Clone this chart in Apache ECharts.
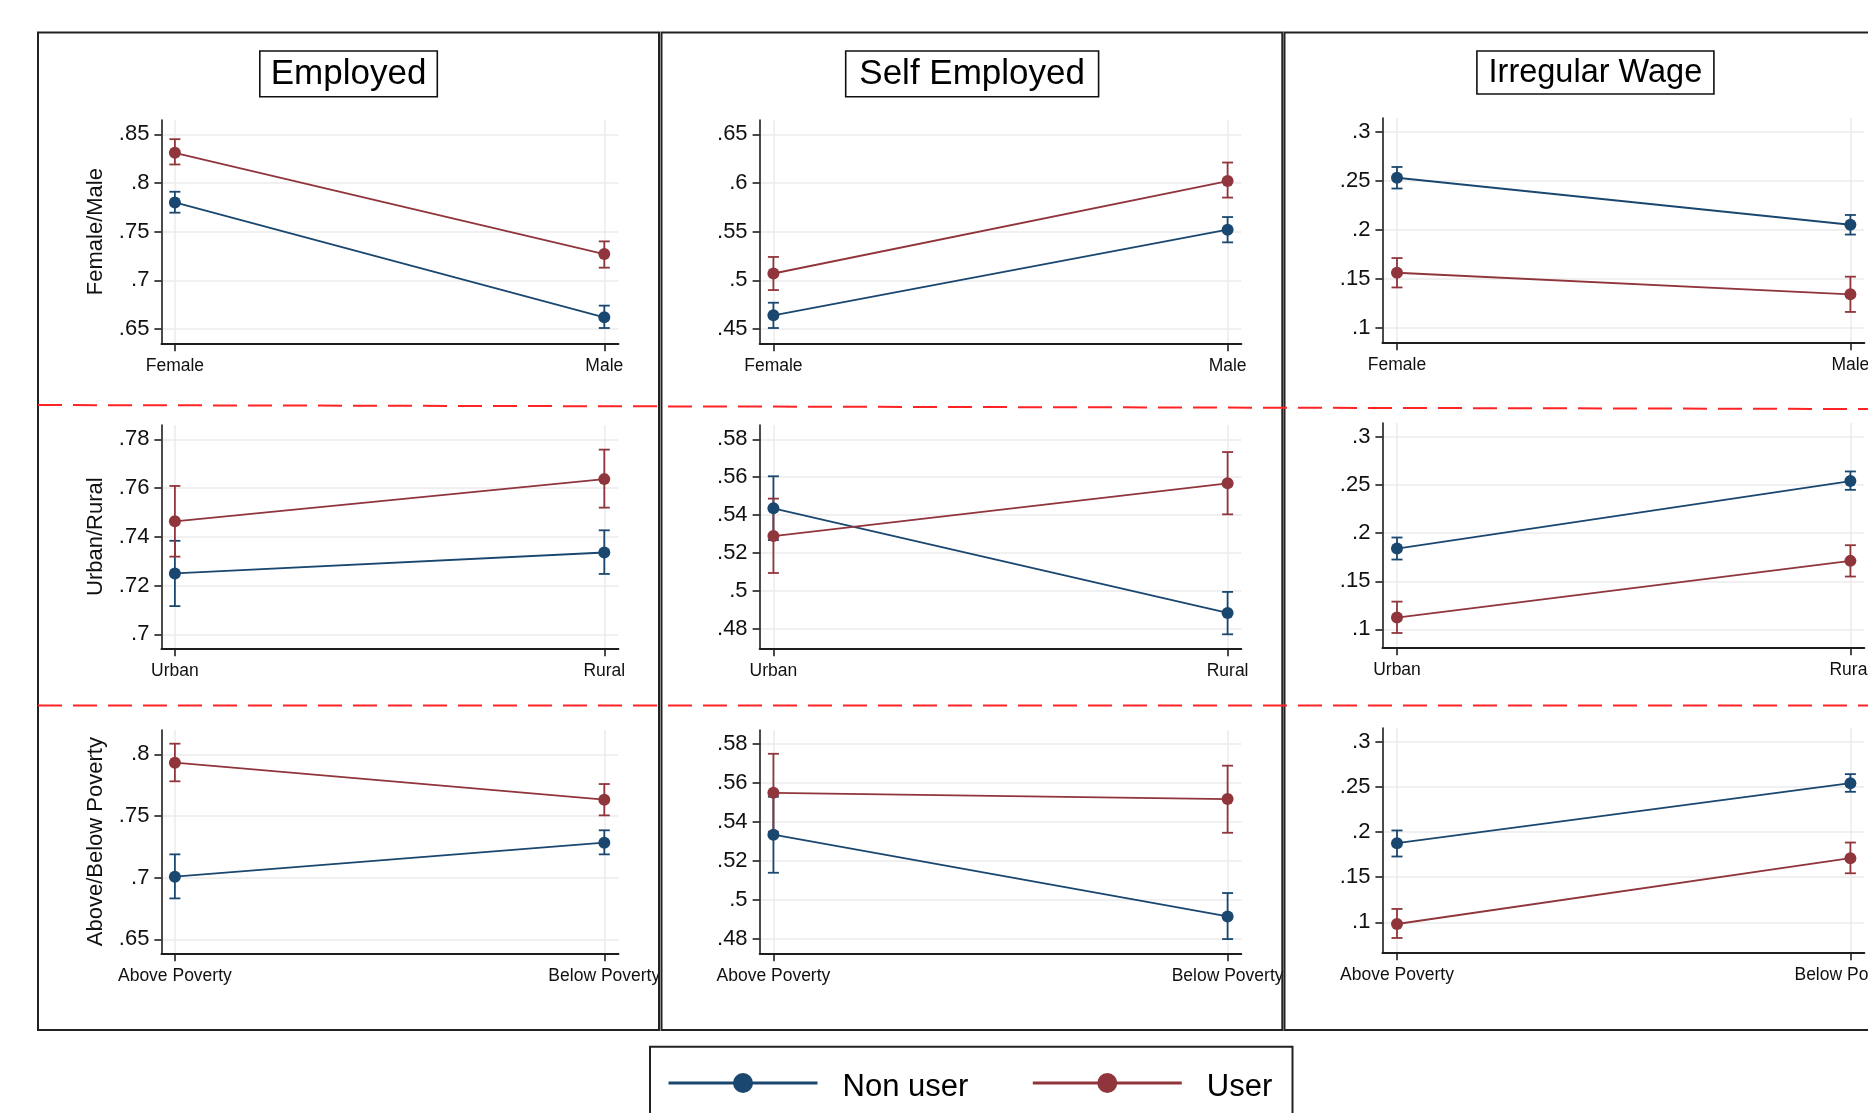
<!DOCTYPE html>
<html><head><meta charset="utf-8">
<script src="https://cdn.jsdelivr.net/npm/echarts@6/dist/echarts.min.js"></script>
<style>html,body{margin:0;padding:0;background:#fff;}#chart{width:1868px;height:1113px;}</style>
</head><body><div id="chart"></div>
<script>
// ---------- DATA ----------
const colTitles = ['Employed', 'Self Employed', 'Irregular Wage'];
const rowTitles = ['Female/Male', 'Urban/Rural', 'Above/Below Poverty'];
const rowCategories = [['Female', 'Male'], ['Urban', 'Rural'], ['Above Poverty', 'Below Poverty']];
const seriesNames = ['Non user', 'User'];

// [row][col] -> [first category, second category]
const nonUserMean = [
  [[0.780, 0.662], [0.464, 0.552], [0.253, 0.205]],
  [[0.725, 0.7336], [0.5436, 0.4883], [0.184, 0.2542]],
  [[0.7008, 0.7284], [0.5335, 0.4916], [0.1878, 0.2544]]
];
const nonUserLow = [
  [[0.7695, 0.651], [0.451, 0.539], [0.242, 0.195]],
  [[0.7116, 0.7248], [0.5268, 0.477], [0.1726, 0.2451]],
  [[0.6832, 0.7189], [0.514, 0.480], [0.173, 0.2448]]
];
const nonUserHigh = [
  [[0.791, 0.674], [0.477, 0.565], [0.264, 0.215]],
  [[0.7384, 0.7427], [0.5605, 0.4994], [0.1955, 0.2642]],
  [[0.7189, 0.7384], [0.553, 0.5036], [0.2019, 0.2644]]
];
const userMean = [
  [[0.831, 0.727], [0.507, 0.602], [0.156, 0.134]],
  [[0.7464, 0.7637], [0.5289, 0.5568], [0.1122, 0.1712]],
  [[0.7932, 0.7632], [0.555, 0.5518], [0.0981, 0.1711]]
];
const userLow = [
  [[0.819, 0.713], [0.490, 0.585], [0.141, 0.116]],
  [[0.7319, 0.752], [0.5094, 0.5404], [0.0962, 0.1549]],
  [[0.7781, 0.7505], [0.535, 0.5345], [0.0826, 0.1544]]
];
const userHigh = [
  [[0.845, 0.740], [0.524, 0.621], [0.171, 0.152]],
  [[0.7609, 0.7758], [0.5487, 0.5733], [0.1288, 0.1875]],
  [[0.8086, 0.7759], [0.575, 0.5689], [0.1148, 0.1885]]
];
// y tick labels [row][col]
const yTicks = [
  [[0.65, 0.7, 0.75, 0.8, 0.85], [0.45, 0.5, 0.55, 0.6, 0.65], [0.1, 0.15, 0.2, 0.25, 0.3]],
  [[0.7, 0.72, 0.74, 0.76, 0.78], [0.48, 0.5, 0.52, 0.54, 0.56, 0.58], [0.1, 0.15, 0.2, 0.25, 0.3]],
  [[0.65, 0.7, 0.75, 0.8], [0.48, 0.5, 0.52, 0.54, 0.56, 0.58], [0.1, 0.15, 0.2, 0.25, 0.3]]
];
// y axis ranges [row][col] -> [min, max]
const yRange = [
  [[0.6353, 0.8647], [0.4353, 0.6647], [0.085, 0.314]],
  [[0.6943, 0.7859], [0.4696, 0.5876], [0.0813, 0.3146]],
  [[0.6387, 0.8197], [0.4727, 0.5872], [0.0667, 0.3156]]
];

// ---------- LAYOUT / STYLE ----------
const FONT = 'Liberation Sans, Arial, Helvetica, sans-serif';
const colors = ['#1a476f', '#90353b'];
const colLeft = [161.4, 759.6, 1382.4];
const colWidth = [457.1, 481.8, 482];
const colDy = [0, 0, -2];
const xRange = [[-0.0314, 1.0331], [-0.0304, 1.0304], [-0.0322, 1.0309]];
const rowTop = [120, 425, 730];
const plotH = 223.3;
const axisColor = '#1e1e1e';
const gridColor = '#ebebeb';

function fmtY(v) { return String(+v).replace(/^0\./, '.'); }

function errBar(color) {
  return function (params, api) {
    const x = api.value(0), lo = api.value(1), hi = api.value(2);
    const t = api.coord([x, hi]), b = api.coord([x, lo]);
    const w = 5.5;
    const st = { stroke: color, lineWidth: 1.8 };
    return {
      type: 'group', children: [
        { type: 'line', shape: { x1: t[0], y1: t[1], x2: b[0], y2: b[1] }, style: st },
        { type: 'line', shape: { x1: t[0] - w, y1: t[1], x2: t[0] + w, y2: t[1] }, style: st },
        { type: 'line', shape: { x1: b[0] - w, y1: b[1], x2: b[0] + w, y2: b[1] }, style: st }
      ]
    };
  };
}

const grids = [], xAxes = [], yAxes = [], series = [];
for (let r = 0; r < 3; r++) {
  for (let c = 0; c < 3; c++) {
    const idx = grids.length;
    grids.push({ left: colLeft[c], top: rowTop[r] + colDy[c], width: colWidth[c],
      height: plotH + (c === 2 ? 1 : 0), containLabel: false, outerBoundsMode: 'none' });
    const cats = rowCategories[r];
    xAxes.push({
      type: 'value', gridIndex: idx, min: xRange[c][0], max: xRange[c][1],
      axisLine: { show: true, onZero: false, lineStyle: { color: axisColor, width: 1.8 } },
      axisTick: { show: true, length: 8, customValues: [0, 1], lineStyle: { color: axisColor, width: 1.6 } },
      axisLabel: { show: true, customValues: [0, 1], formatter: v => cats[Math.round(v)], margin: 14,
        fontSize: 17.5, color: '#111', fontFamily: FONT, hideOverlap: false },
      splitLine: { show: true, lineStyle: { color: gridColor, width: 1.5 } }
    });
    yAxes.push({
      type: 'value', gridIndex: idx, min: yRange[r][c][0], max: yRange[r][c][1],
      axisLine: { show: true, onZero: false, lineStyle: { color: axisColor, width: 1.6 } },
      axisTick: { show: true, length: 7, customValues: yTicks[r][c], lineStyle: { color: axisColor, width: 1.6 } },
      axisLabel: { show: true, customValues: yTicks[r][c], formatter: fmtY, margin: 12,
        fontSize: 22, color: '#111', fontFamily: FONT },
      splitLine: { show: true, lineStyle: { color: gridColor, width: 1.5 } },
      name: c === 0 ? rowTitles[r] : '', nameLocation: 'middle', nameGap: 54,
      nameTextStyle: { fontSize: 22, color: '#111', fontFamily: FONT }
    });
    const means = [nonUserMean, userMean], lows = [nonUserLow, userLow], highs = [nonUserHigh, userHigh];
    for (let s = 0; s < 2; s++) {
      series.push({
        type: 'custom', name: seriesNames[s] + ' CI', xAxisIndex: idx, yAxisIndex: idx,
        renderItem: errBar(colors[s]), silent: true, z: 2, clip: false,
        encode: { x: 0, y: [1, 2] },
        data: [[0, lows[s][r][c][0], highs[s][r][c][0]], [1, lows[s][r][c][1], highs[s][r][c][1]]]
      });
    }
    for (let s = 0; s < 2; s++) {
      series.push({
        type: 'line', name: seriesNames[s], xAxisIndex: idx, yAxisIndex: idx,
        symbol: 'circle', symbolSize: 12, showSymbol: true, z: 3,
        lineStyle: { color: colors[s], width: 1.8 },
        itemStyle: { color: colors[s], borderWidth: 0 },
        data: [[0, means[s][r][c][0]], [1, means[s][r][c][1]]]
      });
    }
  }
}

// decorations
const panelBoxes = [[38, 32.5, 621, 997.5], [661.5, 32.5, 620.8, 997.5], [1284.5, 32.5, 621, 997.5]];
const titleBoxes = [[259.8, 51, 177.5, 45.7, 35], [845.7, 51, 252.9, 45.7, 35], [1476.9, 51, 237, 43, 32.5]];
const graphic = [];
panelBoxes.forEach(b => graphic.push({ type: 'rect', shape: { x: b[0], y: b[1], width: b[2], height: b[3] },
  style: { fill: 'none', stroke: '#222', lineWidth: 2 }, z: 10 }));
titleBoxes.forEach((b, i) => {
  graphic.push({ type: 'rect', shape: { x: b[0], y: b[1], width: b[2], height: b[3] },
    style: { fill: '#fff', stroke: '#111', lineWidth: 1.6 }, z: 10 });
  graphic.push({ type: 'text', x: b[0] + b[2] / 2, y: b[1] + b[3] / 2 + 0.5,
    style: { text: colTitles[i], fill: '#000', font: b[4] + 'px ' + FONT, textAlign: 'center', textVerticalAlign: 'middle' }, z: 11 });
});
graphic.push({ type: 'line', shape: { x1: 38, y1: 405, x2: 1868, y2: 409 },
  style: { stroke: '#ff2424', lineWidth: 2, lineDash: [24, 11] }, z: 12 });
graphic.push({ type: 'line', shape: { x1: 38, y1: 705.5, x2: 1868, y2: 705.5 },
  style: { stroke: '#ff2424', lineWidth: 2, lineDash: [24, 11] }, z: 12 });
graphic.push({ type: 'rect', shape: { x: 650, y: 1046.7, width: 642.5, height: 120 },
  style: { fill: 'none', stroke: '#222', lineWidth: 2 }, z: 10 });

const chart = echarts.init(document.getElementById('chart'), null, { renderer: 'canvas' });
chart.setOption({
  backgroundColor: '#fff',
  animation: false,
  textStyle: { fontFamily: FONT },
  grid: grids, xAxis: xAxes, yAxis: yAxes, series: series,
  legend: {
    data: seriesNames, left: 667, top: 1072, padding: 0,
    itemWidth: 149, itemHeight: 25, itemGap: 63,
    lineStyle: { width: 3 },
    formatter: '{t|{name}}',
    textStyle: { fontSize: 31, color: '#000', fontFamily: FONT,
      rich: { t: { fontSize: 31, color: '#000', fontFamily: FONT, padding: [9, 0, 0, 20] } } },
    selectedMode: false
  },
  graphic: graphic
});
</script></body></html>
